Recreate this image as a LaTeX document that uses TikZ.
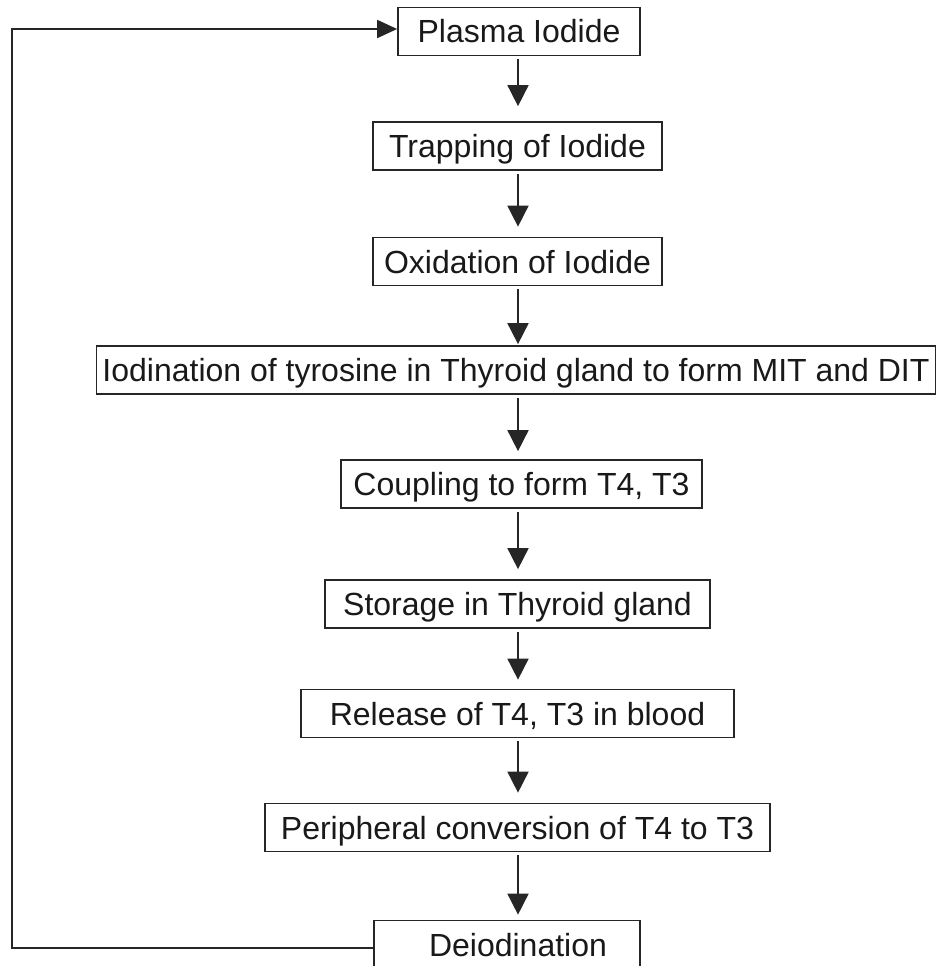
\documentclass[tikz,border=0pt]{standalone}
\usepackage{fontspec}
\setmainfont{Liberation Sans}
\usetikzlibrary{arrows.meta}
\begin{document}
\begin{tikzpicture}[x=1pt,y=-1pt,
  box/.style={draw=black!85, line width=1.7pt, fill=white,
    font=\fontsize{32}{38}\selectfont, text=black!90,
    text height=23pt, text depth=0pt, inner xsep=0pt, inner ysep=12.5pt,
    minimum height=48pt},
  flow/.style={line width=1.7pt, draw=black!85, shorten <=3pt,
    -{Triangle[length=21pt,width=21pt]}},
  back/.style={line width=1.7pt, draw=black!85,
    -{Triangle[length=20pt,width=18pt]}},
]
\clip (0,0) rectangle (938,966);
\fill[white] (0,0) rectangle (938,966);
\coordinate (ax) at (518,0);
\node[box, minimum width=242pt] (plasma) at (519,31.5) {Plasma Iodide};
\node[box, minimum width=289pt] (trap) at (517.5,146) {Trapping of Iodide};
\node[box, minimum width=289pt] (oxid) at (517.5,261.5) {Oxidation of Iodide};
\node[box, minimum width=839pt] (iodin) at (516,370) {Iodination of tyrosine in Thyroid gland to form MIT and DIT};
\node[box, minimum width=361pt] (coup) at (521.5,484) {Coupling to form T4, T3};
\node[box, minimum width=385pt] (stor) at (517.5,604) {Storage in Thyroid gland};
\node[box, minimum width=433pt] (rel) at (517.5,713.5) {Release of T4, T3 in blood};
\node[box, minimum width=505pt] (peri) at (517.5,827.5) {Peripheral conversion of T4 to T3};
\node[box, minimum width=266pt] (deio) at (507,944.5) {\kern22pt Deiodination};
\draw[flow, shorten >=15pt] (plasma.south -| ax) -- (trap.north -| ax);
\draw[flow, shorten >=10pt] (trap.south -| ax) -- (oxid.north -| ax);
\draw[flow, shorten >=1pt] (oxid.south -| ax) -- (iodin.north -| ax);
\draw[flow, shorten >=8pt] (iodin.south -| ax) -- (coup.north -| ax);
\draw[flow, shorten >=10pt] (coup.south -| ax) -- (stor.north -| ax);
\draw[flow, shorten >=9pt] (stor.south -| ax) -- (rel.north -| ax);
\draw[flow, shorten >=10pt] (rel.south -| ax) -- (peri.north -| ax);
\draw[flow, shorten >=5pt] (peri.south -| ax) -- (deio.north -| ax);
\coordinate (bl) at (12,948);
\coordinate (tl) at (12,29);
\draw[back] (deio.west |- bl) -- (bl) -- (tl) -- (plasma.west |- tl);
\end{tikzpicture}
\end{document}
